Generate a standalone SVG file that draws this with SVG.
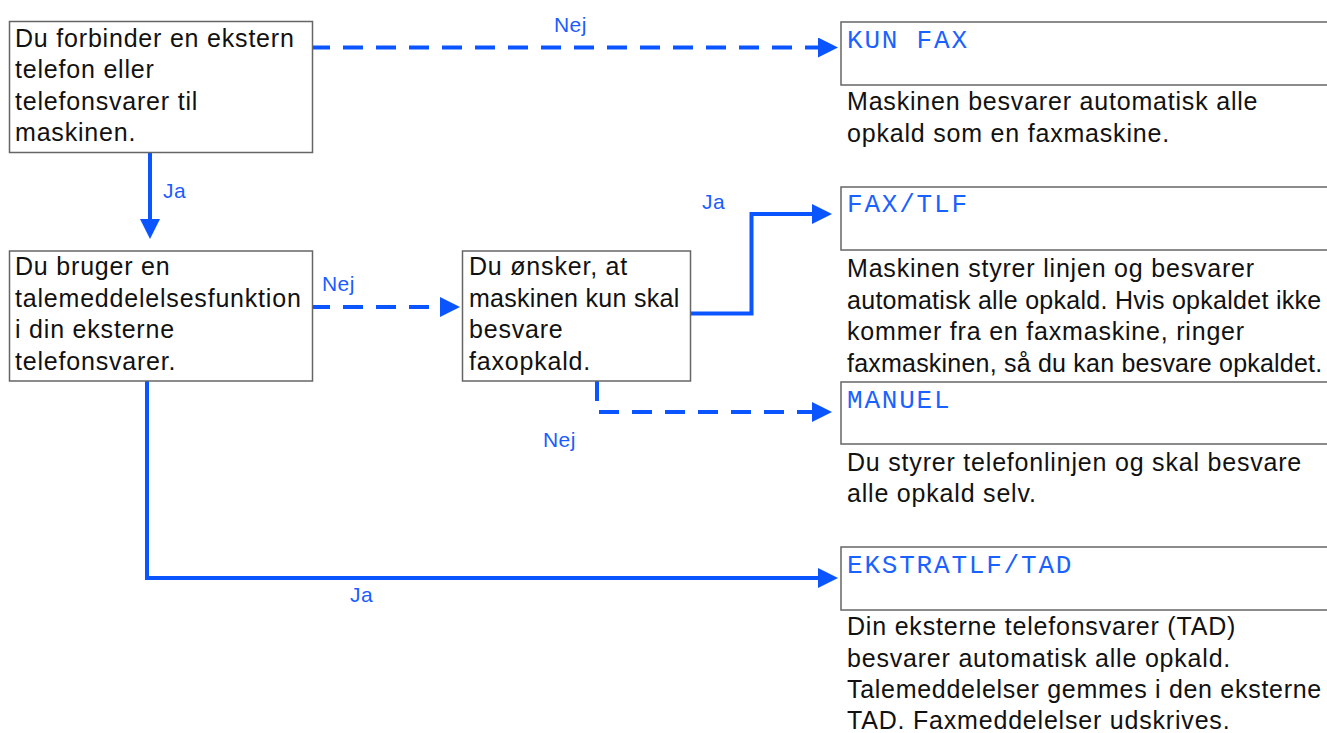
<svg xmlns="http://www.w3.org/2000/svg" width="1327" height="733" viewBox="0 0 1327 733">
<style>
.box{fill:#fff;stroke:#666;stroke-width:1.5}
.t{font-family:"Liberation Sans",Arial,sans-serif;font-size:25px;letter-spacing:0.8px;fill:#111}
.m{font-family:"Liberation Mono","Courier New",monospace;font-size:26px;letter-spacing:1.8px;fill:#1a62ff}
.lbl{font-family:"Liberation Sans",Arial,sans-serif;font-size:21px;letter-spacing:0.4px;fill:#1a5cff}
.c{fill:none;stroke:#0a55ff;stroke-width:4}
.d{stroke-dasharray:20 13}
</style>
<defs>
<marker id="ah" markerUnits="userSpaceOnUse" markerWidth="20" markerHeight="20" viewBox="0 0 20 20" refX="10" refY="10" orient="auto">
<path d="M0,0 L20,10 L0,20 Z" fill="#0a55ff"/>
</marker>
</defs>
<rect width="1327" height="733" fill="#fff"/>
<g id="connectors">
<path class="c d" d="M310,47.5 H828" marker-end="url(#ah)"/>
<path class="c" d="M150,152 V229" marker-end="url(#ah)"/>
<path class="c d" d="M310,307 H450" marker-end="url(#ah)"/>
<path class="c" d="M690,313.5 H751.5 V214 H822" marker-end="url(#ah)"/>
<path class="c d" d="M597,381 V412 H822" marker-end="url(#ah)"/>
<path class="c" d="M147,381 V578 H828" marker-end="url(#ah)"/>
<text class="lbl" x="554" y="31.5">Nej</text>
<text class="lbl" x="163" y="198">Ja</text>
<text class="lbl" x="322" y="291">Nej</text>
<text class="lbl" x="702" y="209">Ja</text>
<text class="lbl" x="543" y="447">Nej</text>
<text class="lbl" x="350" y="602">Ja</text>
</g>
<g id="q1">
<rect class="box" x="9.5" y="21.5" width="303" height="131"/>
<text class="t" x="15" y="46.5">Du forbinder en ekstern</text>
<text class="t" x="15" y="78">telefon eller</text>
<text class="t" x="15" y="109.5">telefonsvarer til</text>
<text class="t" x="15" y="141">maskinen.</text>
</g>
<g id="q2">
<rect class="box" x="9.5" y="251" width="303" height="130"/>
<text class="t" x="15" y="275">Du bruger en</text>
<text class="t" x="15" y="306.5">talemeddelelsesfunktion</text>
<text class="t" x="15" y="338">i din eksterne</text>
<text class="t" x="15" y="369.5">telefonsvarer.</text>
</g>
<g id="q3">
<rect class="box" x="462.5" y="251" width="228" height="130"/>
<text class="t" x="469" y="275">Du ønsker, at</text>
<text class="t" x="469" y="306.5" textLength="211" lengthAdjust="spacing">maskinen kun skal</text>
<text class="t" x="469" y="338">besvare</text>
<text class="t" x="469" y="369.5">faxopkald.</text>
</g>
<g id="kunfax">
<rect class="box" x="841" y="22" width="500" height="63"/>
<text class="m" x="847" y="47.5">KUN FAX</text>
<text class="t" x="847" y="110">Maskinen besvarer automatisk alle</text>
<text class="t" x="847" y="141.5">opkald som en faxmaskine.</text>
</g>
<g id="faxtlf">
<rect class="box" x="841" y="187" width="500" height="63"/>
<text class="m" x="847" y="212">FAX/TLF</text>
<text class="t" x="847" y="277">Maskinen styrer linjen og besvarer</text>
<text class="t" x="847" y="308.5" textLength="475" lengthAdjust="spacing">automatisk alle opkald. Hvis opkaldet ikke</text>
<text class="t" x="847" y="340">kommer fra en faxmaskine, ringer</text>
<text class="t" x="847" y="371.5" textLength="476" lengthAdjust="spacing">faxmaskinen, så du kan besvare opkaldet.</text>
</g>
<g id="manuel">
<rect class="box" x="841" y="382" width="500" height="62"/>
<text class="m" x="847" y="407.5">MANUEL</text>
<text class="t" x="847" y="471">Du styrer telefonlinjen og skal besvare</text>
<text class="t" x="847" y="502">alle opkald selv.</text>
</g>
<g id="ekstratlf">
<rect class="box" x="841" y="547" width="500" height="63"/>
<text class="m" x="847" y="573">EKSTRATLF/TAD</text>
<text class="t" x="847" y="635">Din eksterne telefonsvarer (TAD)</text>
<text class="t" x="847" y="666.5">besvarer automatisk alle opkald.</text>
<text class="t" x="847" y="698" textLength="475" lengthAdjust="spacing">Talemeddelelser gemmes i den eksterne</text>
<text class="t" x="847" y="729">TAD. Faxmeddelelser udskrives.</text>
</g>
</svg>
